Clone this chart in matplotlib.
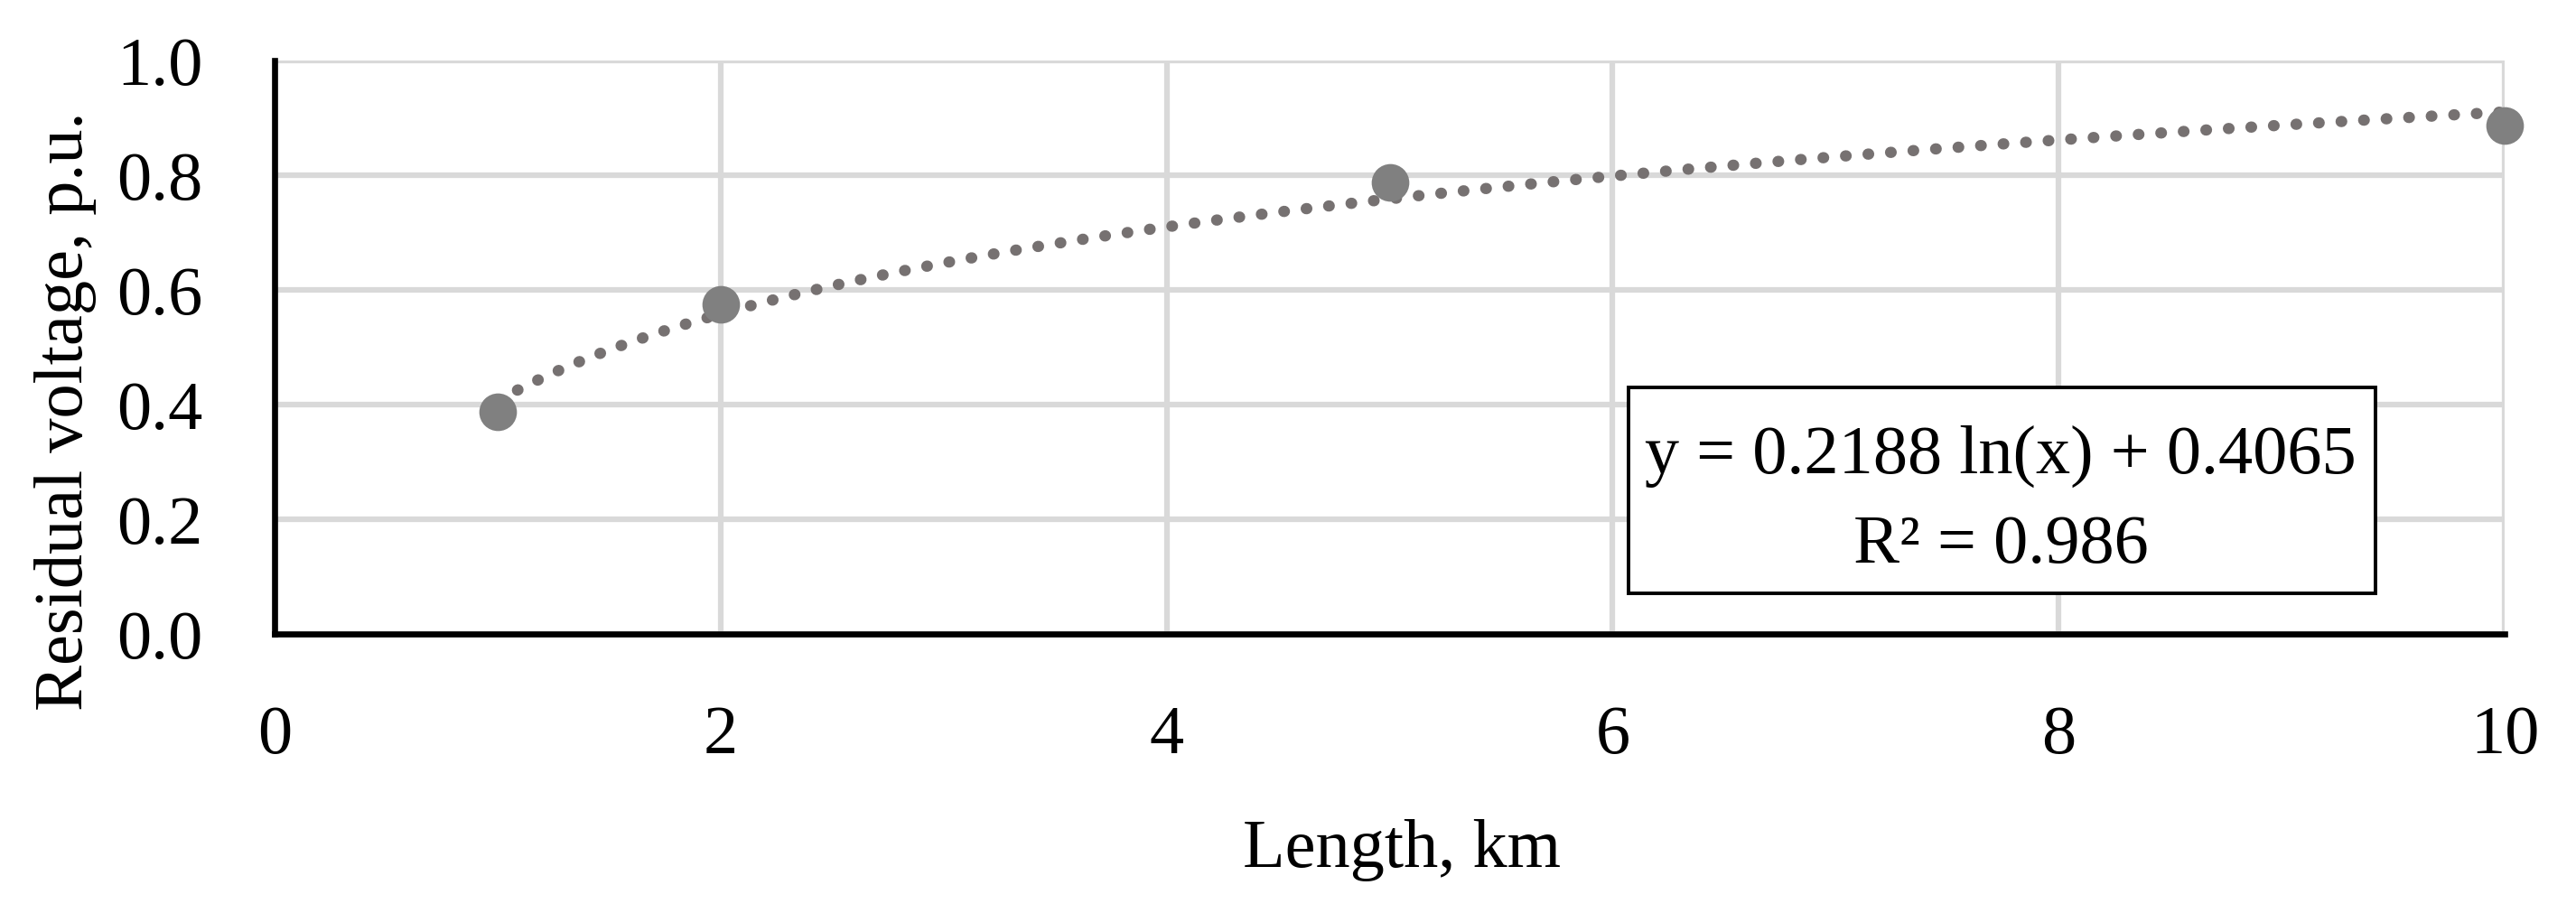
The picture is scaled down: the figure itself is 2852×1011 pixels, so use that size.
import numpy as np
import matplotlib
matplotlib.use("Agg")
import matplotlib.pyplot as plt
from matplotlib.patches import Rectangle

# ---- data ----
length_km = [1, 2, 5, 10]
residual_voltage = [0.387, 0.575, 0.788, 0.886]
fit_a = 0.2188
fit_b = 0.4065
r_squared = 0.986
x_ticks = [0, 2, 4, 6, 8, 10]
y_ticks = [0.0, 0.2, 0.4, 0.6, 0.8, 1.0]
x_label = "Length, km"
y_label = "Residual voltage, p.u."
eq_text = "y = 0.2188 ln(x) + 0.4065"
r2_text = "R\u00b2 = 0.986"

plt.rcParams['font.family'] = ['Liberation Serif', 'DejaVu Serif']
FS = 55

W, H = 2852, 1012
fig = plt.figure(figsize=(W / 100, H / 100), dpi=100)
ax = fig.add_axes([304 / W, 1 - 703 / H, (2773 - 304) / W, (703 - 68) / H])

ax.set_xlim(0, 10)
ax.set_ylim(0, 1)
ax.set_xticks(x_ticks)
ax.set_yticks(y_ticks)
ax.set_xticklabels([str(t) for t in x_ticks], fontsize=FS)
ax.set_yticklabels([f"{t:.1f}" for t in y_ticks], fontsize=FS)
ax.tick_params(axis='both', length=0)
ax.tick_params(axis='x', pad=56)
ax.tick_params(axis='y', pad=57)

ax.grid(True, color='#d9d9d9', linewidth=4.5, zorder=0)
ax.set_axisbelow(True)
for s in ['top', 'right']:
    ax.spines[s].set_visible(False)
for s in ['left', 'bottom']:
    ax.spines[s].set_linewidth(4.8)
    ax.spines[s].set_color('black')
    ax.spines[s].set_zorder(3)

# trendline
xs = np.linspace(min(length_km), max(length_km), 500)
ys = fit_a * np.log(xs) + fit_b
ax.plot(xs, ys, color='#767171', linewidth=9, linestyle=(0, (0.05, 1.95)),
        dash_capstyle='round', zorder=4, clip_on=False)

# points
ax.plot(length_km, residual_voltage, linestyle='none', marker='o', markersize=30,
        color='#808080', markeredgewidth=0, zorder=5, clip_on=False)

# equation box
ax.add_patch(Rectangle((6.07, 0.071), 9.42 - 6.07, 0.430 - 0.071, facecolor='white',
                       edgecolor='black', linewidth=2.8, zorder=6))
ax.text(7.74, 0.283, eq_text, ha='center', va='baseline', fontsize=FS, zorder=7)
ax.text(7.74, 0.126, r2_text, ha='center', va='baseline', fontsize=FS, zorder=7)

fig.text(1552 / W, 1 - 960 / H, x_label, ha='center', va='baseline', fontsize=FS)
fig.text(73 / W, 1 - 455 / H, y_label, ha='center', va='center', rotation=90, fontsize=FS)

fig.savefig('out.png', dpi=100, facecolor='white')
